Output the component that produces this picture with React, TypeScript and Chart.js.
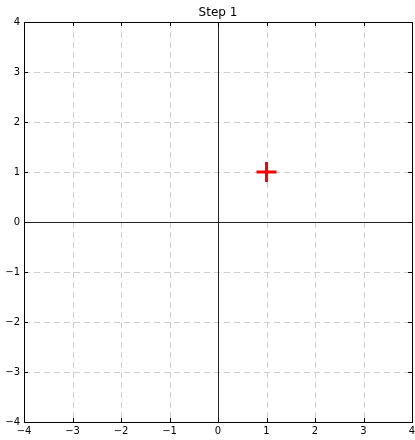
import React, { useEffect, useRef } from "react";
import { Chart, registerables } from "chart.js";

Chart.register(...registerables);

const titleText = "Step 1";
const pointX = [1];
const pointY = [1];
const axisMin = -4;
const axisMax = 4;
const tickValues = [-4, -3, -2, -1, 0, 1, 2, 3, 4];

const fmt = (v: number) => (v < 0 ? "\u2212" + Math.abs(v) : String(v));

const framePlugin = {
  id: "frame",
  beforeDatasetsDraw(chart: any) {
    const { ctx, chartArea: a, scales } = chart;
    const xs = scales.x;
    const ys = scales.y;
    ctx.save();
    // dashed grid
    ctx.strokeStyle = "#cfcfcf";
    ctx.lineWidth = 1;
    ctx.setLineDash([6, 4]);
    tickValues.forEach((v) => {
      if (v === 0 || v === axisMin || v === axisMax) return;
      const px = Math.round(xs.getPixelForValue(v)) + 0.5;
      ctx.beginPath();
      ctx.moveTo(px, a.top);
      ctx.lineTo(px, a.bottom);
      ctx.stroke();
      const py = Math.round(ys.getPixelForValue(v)) + 0.5;
      ctx.beginPath();
      ctx.moveTo(a.left, py);
      ctx.lineTo(a.right, py);
      ctx.stroke();
    });
    ctx.setLineDash([]);
    // zero lines
    ctx.strokeStyle = "#222";
    const x0 = Math.round(xs.getPixelForValue(0)) + 0.5;
    const y0 = Math.round(ys.getPixelForValue(0)) + 0.5;
    ctx.beginPath();
    ctx.moveTo(x0, a.top);
    ctx.lineTo(x0, a.bottom);
    ctx.moveTo(a.left, y0);
    ctx.lineTo(a.right, y0);
    ctx.stroke();
    // inward ticks
    ctx.strokeStyle = "#000";
    const tl = 4;
    tickValues.forEach((v) => {
      const px = Math.round(xs.getPixelForValue(v)) + 0.5;
      ctx.beginPath();
      ctx.moveTo(px, a.bottom);
      ctx.lineTo(px, a.bottom - tl);
      ctx.moveTo(px, a.top);
      ctx.lineTo(px, a.top + tl);
      ctx.stroke();
      const py = Math.round(ys.getPixelForValue(v)) + 0.5;
      ctx.beginPath();
      ctx.moveTo(a.left, py);
      ctx.lineTo(a.left + tl, py);
      ctx.moveTo(a.right, py);
      ctx.lineTo(a.right - tl, py);
      ctx.stroke();
    });
    // frame
    ctx.strokeStyle = "#000";
    ctx.strokeRect(Math.round(a.left) + 0.5, Math.round(a.top) + 0.5, Math.round(a.right - a.left), Math.round(a.bottom - a.top));
    // title
    ctx.fillStyle = "#000";
    ctx.font = "12px 'DejaVu Sans'";
    ctx.textAlign = "center";
    ctx.textBaseline = "middle";
    ctx.fillText(titleText, (a.left + a.right) / 2, 13);
    ctx.restore();
  },
};

export default function App() {
  const ref = useRef<HTMLCanvasElement>(null);
  useEffect(() => {
    if (!ref.current) return;
    const chart = new Chart(ref.current, {
      type: "scatter",
      data: {
        datasets: [
          {
            data: pointX.map((x, i) => ({ x, y: pointY[i] })),
            pointStyle: "cross",
            pointRadius: 10,
            pointHoverRadius: 10,
            borderColor: "#ff0000",
            backgroundColor: "#ff0000",
            borderWidth: 3,
            pointBorderWidth: 3,
          },
        ],
      },
      options: {
        responsive: false,
        animation: false,
        layout: { autoPadding: false, padding: { top: 22, right: 3, left: 0, bottom: 0 } },
        plugins: { legend: { display: false }, tooltip: { enabled: false }, title: { display: false } },
        scales: {
          x: {
            type: "linear",
            min: axisMin,
            max: axisMax,
            afterFit: (s: any) => {
              s.height = 18;
              s.paddingLeft = 0;
              s.paddingRight = 0;
            },
            afterBuildTicks: (s: any) => {
              s.ticks = tickValues.map((v) => ({ value: v }));
            },
            grid: { display: false, drawTicks: false },
            border: { display: false },
            ticks: {
              padding: 3,
              color: "#000",
              font: { family: "'DejaVu Sans'", size: 10 },
              maxRotation: 0,
              autoSkip: false,
              callback: (v: any) => fmt(Number(v)),
            },
          },
          y: {
            type: "linear",
            min: axisMin,
            max: axisMax,
            afterFit: (s: any) => {
              s.width = 24;
              s.paddingTop = 0;
              s.paddingBottom = 0;
            },
            afterBuildTicks: (s: any) => {
              s.ticks = tickValues.map((v) => ({ value: v }));
            },
            grid: { display: false, drawTicks: false },
            border: { display: false },
            ticks: {
              padding: 4,
              color: "#000",
              font: { family: "'DejaVu Sans'", size: 10 },
              autoSkip: false,
              callback: (v: any) => fmt(Number(v)),
            },
          },
        },
      },
      plugins: [framePlugin],
    });
    return () => chart.destroy();
  }, []);
  return (
    <div style={{ position: "absolute", left: 0, top: 0, width: 415, height: 440, background: "#fff" }}>
      <canvas ref={ref} width={415} height={440} style={{ width: 415, height: 440, display: "block" }} />
    </div>
  );
}
